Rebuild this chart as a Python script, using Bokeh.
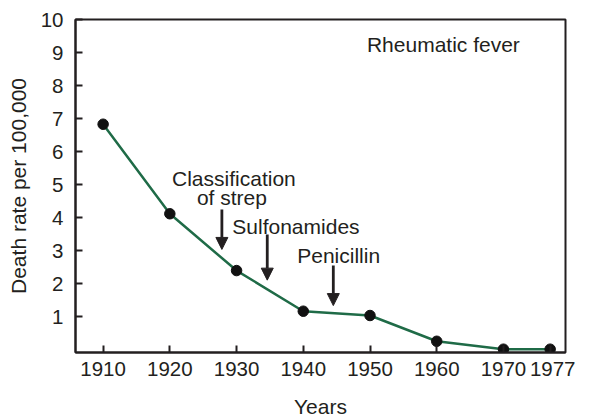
from bokeh.plotting import figure
from bokeh.models import Range1d, FixedTicker, Arrow, NormalHead, ColumnDataSource
from bokeh.core.properties import value
from bokeh.embed import file_html
from bokeh.resources import INLINE

years = [1910, 1920, 1930, 1940, 1950, 1960, 1970, 1977]
death_rate = [6.83, 4.12, 2.40, 1.17, 1.04, 0.26, 0.02, 0.02]

x_ticks = [1910, 1920, 1930, 1940, 1950, 1960, 1970, 1977]
y_ticks = [1, 2, 3, 4, 5, 6, 7, 8, 9, 10]

# annotation arrows: year, start value, end value
arrow_year = [1927.8, 1934.6, 1944.5]
arrow_start = [4.25, 3.49, 2.55]
arrow_end = [3.04, 2.11, 1.34]

note_text = ["Classification", "of strep", "Sulfonamides", "Penicillin", "Rheumatic fever"]
note_year = [1929.6, 1929.3, 1938.9, 1945.3, 1961.0]
note_value = [5.19, 4.61, 3.73, 2.86, 9.23]

FONT = "Liberation Sans"
INK = "#231f20"

p = figure(frame_width=490, frame_height=333, output_backend="svg", toolbar_location=None,
           x_range=Range1d(1905.86, 1979.3), y_range=Range1d(-0.08, 10.0),
           min_border_left=75, min_border_top=19, min_border_right=10, min_border_bottom=10)
p.background_fill_color = "white"
p.border_fill_color = "white"
p.outline_line_color = INK
p.outline_line_width = 2
p.xgrid.visible = False
p.ygrid.visible = False

# tick marks sit at every year; the last year's label is set a little to the right,
# as in the original drawing, so that it does not run into "1970"
last_label_shift = 1.5
label_pos = x_ticks[:-1] + [x_ticks[-1] + last_label_shift]
p.xaxis.ticker = FixedTicker(ticks=label_pos, minor_ticks=x_ticks)
p.xaxis.major_label_overrides = {label_pos[-1]: str(x_ticks[-1])}
p.xaxis.major_tick_in = 0
p.xaxis.major_tick_out = 0
p.xaxis.minor_tick_in = 7
p.xaxis.minor_tick_out = 0
p.xaxis.minor_tick_line_color = INK
p.xaxis.minor_tick_line_width = 2

p.yaxis.ticker = FixedTicker(ticks=y_ticks)
p.yaxis.major_tick_in = 7
p.yaxis.major_tick_out = 0
p.yaxis.minor_tick_line_color = None

for ax in (p.xaxis, p.yaxis):
    ax.axis_line_color = INK
    ax.axis_line_width = 2
    ax.major_tick_line_color = INK
    ax.major_tick_line_width = 2
    ax.major_label_text_font = FONT
    ax.major_label_text_font_size = "20.5px"
    ax.major_label_text_color = INK
    ax.axis_label_text_font = FONT
    ax.axis_label_text_font_size = "21px"
    ax.axis_label_text_font_style = "normal"
    ax.axis_label_text_color = INK

p.xaxis.axis_label = "Years"
p.yaxis.axis_label = "Death rate per 100,000"
p.xaxis.major_label_standoff = 9
p.yaxis.major_label_standoff = 12
p.xaxis.axis_label_standoff = 16
p.yaxis.axis_label_standoff = 8

src = ColumnDataSource(dict(x=years, y=death_rate))
p.line("x", "y", source=src, line_color="#1f6b47", line_width=2.5)
p.scatter("x", "y", source=src, size=10.5, fill_color="#111111", line_color="#111111")

for xa, y0, y1 in zip(arrow_year, arrow_start, arrow_end):
    p.add_layout(Arrow(x_start=xa, y_start=y0, x_end=xa, y_end=y1, line_color=INK, line_width=2.8,
                       end=NormalHead(size=12, fill_color=INK, line_color=INK, line_width=1)))

nsrc = ColumnDataSource(dict(x=note_year, y=note_value, t=note_text))
p.text("x", "y", text="t", source=nsrc, text_font=value(FONT), text_font_size="21px",
       text_align="center", text_baseline="alphabetic", text_color=INK)

open("out.html", "w").write(file_html(p, INLINE))
